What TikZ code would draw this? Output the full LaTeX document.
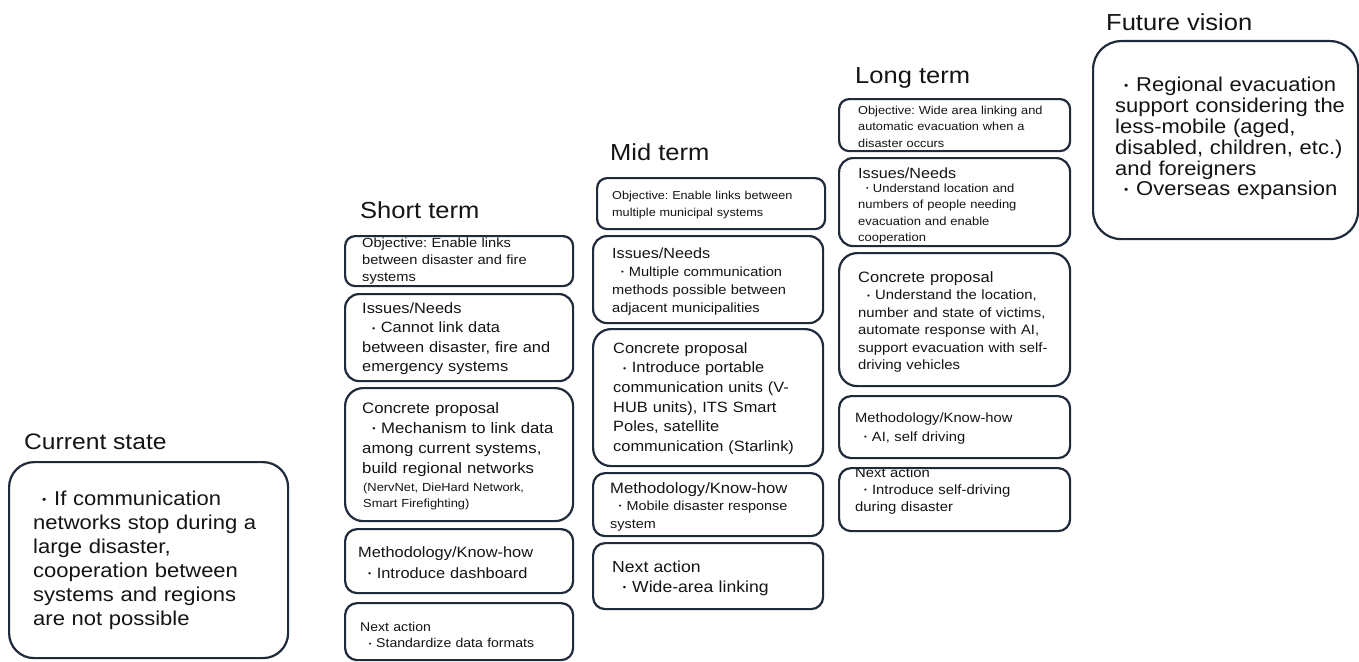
\documentclass[tikz,border=0pt]{standalone}
\usepackage{fontspec}
\setmainfont{Liberation Sans}[FakeStretch=1.1]
\definecolor{boxc}{HTML}{1F2B3A}
\definecolor{textc}{HTML}{141414}
\newcommand\fsz[2]{\fontsize{#1}{#2}\selectfont}
\newcommand\dotmark{\raisebox{0.1em}{\scalebox{0.55}{•}}}
\newcommand\bul{\hspace*{0.3em}\makebox[0.95em][c]{\dotmark}}
\newcommand\bulb{\hspace*{0.05em}\makebox[1em][c]{\dotmark}}
\begin{document}
\frenchspacing
\begin{tikzpicture}[x=1pt,y=-1pt,
  box/.style={draw=boxc, line width=2.2pt, inner sep=0pt, anchor=north west},
  titletxt/.style={anchor=base west, inner sep=0pt, text=textc, font=\fsz{23.2}{28}},
  txt/.style={anchor=base west, inner sep=0pt, align=left, text width=320pt, text=textc}]
\fill[white] (0,0) rectangle (1359,661);
\useasboundingbox (0,0) rectangle (1359,661);

% ---------- Current state ----------
\node[titletxt, font=\fsz{22.4}{28}] (cTitle) at (24,449) {Current state};
\node[txt, font=\fsz{20}{24}] (cText) at (33,505) {\bulb If communication\\networks stop during a\\large disaster,\\cooperation between\\systems and regions\\are not possible};
\node[box, rounded corners=25pt, minimum width=279pt, minimum height=196pt] (cBox) at (8,461) {};

% ---------- Short term ----------
\node[titletxt] (sTitle) at (360,218) {Short term};
\node[txt, font=\fsz{13.3}{17}] (sObjT) at (362,247.5) {Objective: Enable links\\between disaster and fire\\systems};
\node[txt, font=\fsz{14.9}{19.5}] (sIssT) at (362,313) {Issues/Needs\\\bul Cannot link data\\between disaster, fire and\\emergency systems};
\node[txt, font=\fsz{15.2}{20.3}] (sConT) at (362,413) {Concrete proposal\\\bul Mechanism to link data\\among current systems,\\build regional networks};
\node[txt, font=\fsz{11.7}{16}] (sConS) at (363,491) {(NervNet, DieHard Network,\\Smart Firefighting)};
\node[txt, font=\fsz{14.9}{21}] (sMetT) at (358,557) {Methodology/Know-how\\\bul Introduce dashboard};
\node[txt, font=\fsz{12.8}{16.5}] (sNxtT) at (360,631) {Next action\\\bul Standardize data formats};
\node[box, rounded corners=10pt, minimum width=228pt, minimum height=50pt] (sObj) at (344,235) {};
\node[box, rounded corners=14pt, minimum width=228pt, minimum height=87pt] (sIss) at (344,293) {};
\node[box, rounded corners=18pt, minimum width=228pt, minimum height=133pt] (sCon) at (344,387) {};
\node[box, rounded corners=12pt, minimum width=228pt, minimum height=64pt] (sMet) at (344,528) {};
\node[box, rounded corners=12pt, minimum width=228pt, minimum height=57pt] (sNxt) at (344,602) {};

% ---------- Mid term ----------
\node[titletxt] (mTitle) at (610,160) {Mid term};
\node[txt, font=\fsz{11.5}{17}] (mObjT) at (612,199) {Objective: Enable links between\\multiple municipal systems};
\node[txt, font=\fsz{14.7}{18}] (mIssH) at (612,258) {Issues/Needs};
\node[txt, font=\fsz{13.3}{18}] (mIssT) at (612,276) {\bul Multiple communication\\methods possible between\\adjacent municipalities};
\node[txt, font=\fsz{14.9}{19.7}] (mConT) at (613,353) {Concrete proposal\\\bul Introduce portable\\communication units (V-\\HUB units), ITS Smart\\Poles, satellite\\communication (Starlink)};
\node[txt, font=\fsz{15.1}{18}] (mMetH) at (610,493) {Methodology/Know-how};
\node[txt, font=\fsz{13.1}{18}] (mMetT) at (610,510) {\bul Mobile disaster response\\system};
\node[txt, font=\fsz{16}{20}] (mNxtT) at (612,572) {Next action\\\bul Wide-area linking};
\node[box, rounded corners=10pt, minimum width=228pt, minimum height=51pt] (mObj) at (596,177) {};
\node[box, rounded corners=14pt, minimum width=230pt, minimum height=87pt] (mIss) at (592,235) {};
\node[box, rounded corners=18pt, minimum width=230pt, minimum height=137pt] (mCon) at (592,328) {};
\node[box, rounded corners=12pt, minimum width=230pt, minimum height=63pt] (mMet) at (592,472) {};
\node[box, rounded corners=12pt, minimum width=230pt, minimum height=66pt] (mNxt) at (592,542) {};

% ---------- Long term ----------
\node[titletxt] (lTitle) at (855,84) {Long term};
\node[txt, font=\fsz{11.6}{16.7}] (lObjT) at (858,114) {Objective: Wide area linking and\\automatic evacuation when a\\disaster occurs};
\node[txt, font=\fsz{14.7}{18}] (lIssH) at (858,178) {Issues/Needs};
\node[txt, font=\fsz{11.8}{16.5}] (lIssT) at (858,192) {\bul Understand location and\\numbers of people needing\\evacuation and enable\\cooperation};
\node[txt, font=\fsz{15}{18}] (lConH) at (858,282) {Concrete proposal};
\node[txt, font=\fsz{13.5}{17.5}] (lConT) at (858,299.5) {\bul Understand the location,\\number and state of victims,\\automate response with AI,\\support evacuation with self-\\driving vehicles};
\node[txt, font=\fsz{13.4}{19}] (lMetT) at (855,422) {Methodology/Know-how\\\bul AI, self driving};
\node[txt, font=\fsz{13.5}{17}] (lNxtT) at (855,477) {Next action\\\bul Introduce self-driving\\during disaster};
\node[box, rounded corners=10pt, minimum width=231pt, minimum height=52pt] (lObj) at (838,98) {};
\node[box, rounded corners=14pt, minimum width=231pt, minimum height=88pt] (lIss) at (838,157) {};
\node[box, rounded corners=18pt, minimum width=231pt, minimum height=133pt] (lCon) at (838,252) {};
\node[box, rounded corners=12pt, minimum width=231pt, minimum height=62pt] (lMet) at (838,395) {};
\node[box, rounded corners=12pt, minimum width=231pt, minimum height=63pt] (lNxt) at (838,467) {};

% ---------- Future vision ----------
\node[titletxt] (fTitle) at (1106,31) {Future vision};
\node[txt, font=\fsz{20}{20.8}] (fText) at (1115,92) {\bulb Regional evacuation\\support considering the\\less-mobile (aged,\\disabled, children, etc.)\\and foreigners\\\bulb Overseas expansion};
\node[box, rounded corners=28pt, minimum width=265pt, minimum height=198pt] (fBox) at (1092,40) {};
\end{tikzpicture}
\end{document}
